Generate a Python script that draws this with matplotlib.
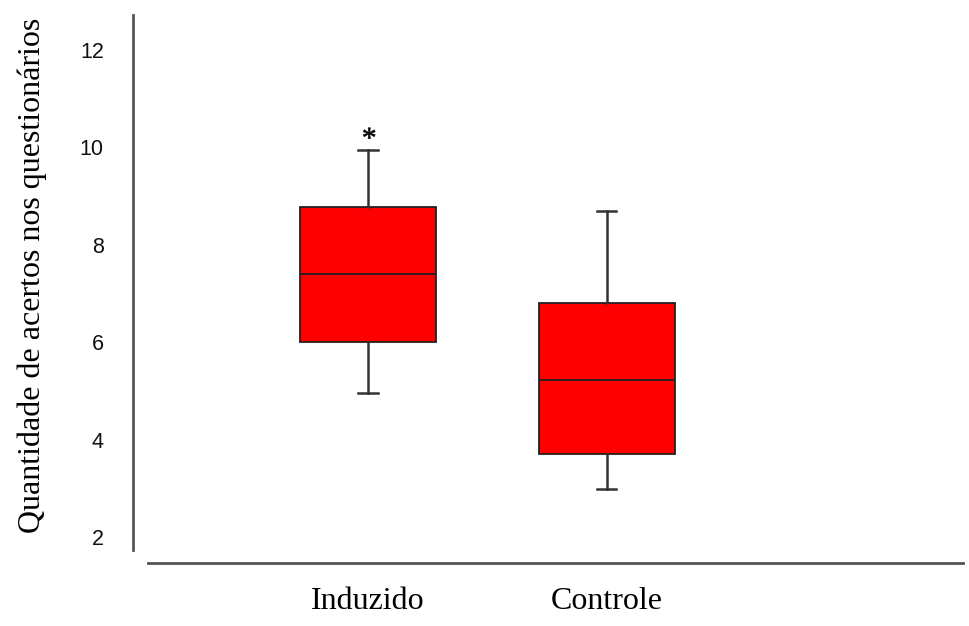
import matplotlib
matplotlib.use("Agg")
import matplotlib.pyplot as plt
from matplotlib.textpath import TextPath
from matplotlib.font_manager import FontProperties
from matplotlib.path import Path

# grupos e estatisticas
groups = ["Induzido", "Controle"]
whislo = [4.96, 2.98]
q1 = [6.0, 3.7]
med = [7.4, 5.22]
q3 = [8.78, 6.8]
whishi = [9.95, 8.7]
outliers = [[10.21], []]
yticks = [2, 4, 6, 8, 10, 12]

stats = []
for i, g in enumerate(groups):
    stats.append(dict(whislo=whislo[i], q1=q1[i], med=med[i],
                      q3=q3[i], whishi=whishi[i], fliers=outliers[i]))

# asterisco (Times) como marcador, centrado
tp = TextPath((0, 0), "*", prop=FontProperties(family="Liberation Serif"))
v = tp.vertices.copy()
v -= (v.min(axis=0) + v.max(axis=0)) / 2
star = Path(v, tp.codes)

fig = plt.figure(figsize=(9.7, 6.26), dpi=100)
ax = fig.add_axes([133 / 970, 1 - 563 / 626, (963 - 133) / 970, (563 - 15) / 626])

line_c = "#333333"
ax.bxp(stats, positions=[1, 2], widths=0.569, patch_artist=True,
       boxprops=dict(facecolor="#ff0000", edgecolor="#222222", linewidth=1.3),
       medianprops=dict(color="#222222", linewidth=1.3),
       whiskerprops=dict(color=line_c, linewidth=1.8),
       capprops=dict(color=line_c, linewidth=1.8),
       flierprops=dict(marker=star, markersize=14, markerfacecolor="black",
                       markeredgecolor="black", markeredgewidth=0.4),
       capwidths=0.08, showfliers=True)

ax.set_xlim(0.0167, 3.49)
ax.set_ylim(1.466, 12.72)
ax.set_yticks(yticks)
ax.set_yticklabels([str(t) for t in yticks])
ax.set_xticks([1, 2])
ax.set_xticklabels(groups)
ax.tick_params(axis="y", length=0, pad=21)
ax.tick_params(axis="x", length=0, pad=17)
for lbl in ax.get_yticklabels():
    lbl.set_family("Liberation Sans")
    lbl.set_fontsize(15.5)
    lbl.set_color("#111111")
for lbl in ax.get_xticklabels():
    lbl.set_family("Liberation Serif")
    lbl.set_fontsize(23)

for s in ["top", "right"]:
    ax.spines[s].set_visible(False)
ax.spines["left"].set_bounds(1.733, 12.72)
ax.spines["bottom"].set_bounds(0.0795, 3.49)
for s in ["left", "bottom"]:
    ax.spines[s].set_color("#555555")
    ax.spines[s].set_linewidth(2)

fig.text(32 / 970, 1 - 275 / 626, "Quantidade de acertos nos questionários",
         family="Liberation Serif", fontsize=23, rotation=90,
         ha="center", va="center")

fig.savefig("out.png", dpi=100)
